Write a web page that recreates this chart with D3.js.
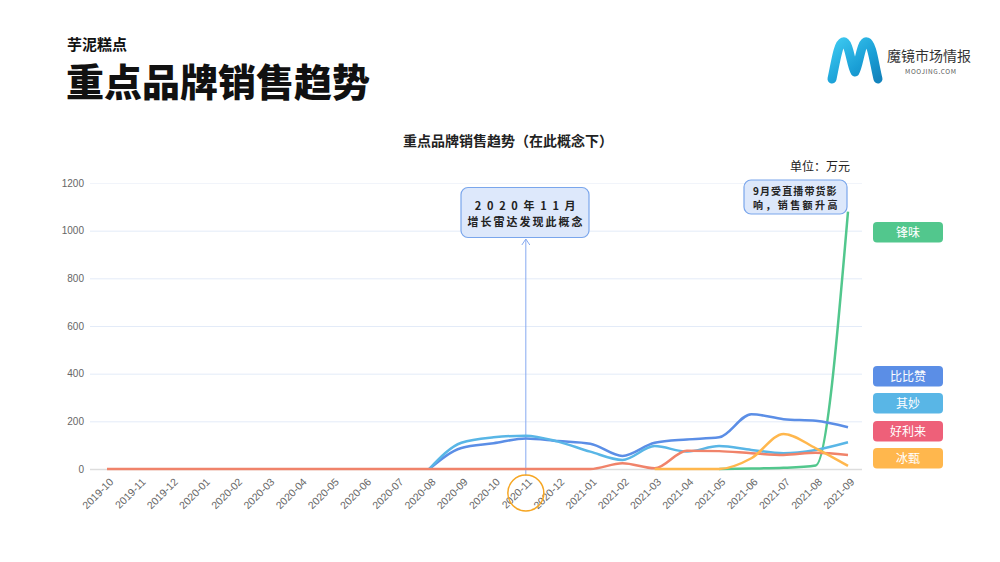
<!DOCTYPE html>
<html><head><meta charset="utf-8">
<script src="https://cdn.jsdelivr.net/npm/d3@7"></script>
<style>
html,body{margin:0;padding:0;background:#fff;}
svg{display:block;font-family:"Noto Sans CJK SC","Noto Sans",sans-serif;}
</style></head>
<body>
<svg id="c" width="1000" height="562"></svg>
<script>
// ---- data ----
const months = ["2019-10","2019-11","2019-12","2020-01","2020-02","2020-03","2020-04","2020-05","2020-06","2020-07","2020-08","2020-09","2020-10","2020-11","2020-12","2021-01","2021-02","2021-03","2021-04","2021-05","2021-06","2021-07","2021-08","2021-09"];
const yTicks = [0,200,400,600,800,1000,1200];
const N = null;
const fengwei  = [N,N,N,N,N,N,N,N,N,N,N,N,N,N,N,N,N,N,N,0,2,5,15,1080];
const bibizan  = [N,N,N,N,N,N,N,N,N,N,0,88,108,128,117,106,55,110,124,133,230,209,202,175];
const qimiao   = [N,N,N,N,N,N,N,N,N,N,0,110,133,140,115,73,38,96,73,96,80,66,80,112];
const haolilai = [0,0,0,0,0,0,0,0,0,0,0,0,0,0,0,0,24,3,77,75,66,59,68,59];
const bingzhen = [N,N,N,N,N,N,N,N,N,N,N,N,N,N,N,N,N,0,0,0,45,147,87,13];
const seriesNames = ["锋味","比比赞","其妙","好利来","冰甄"];
const seriesData = [fengwei,bibizan,qimiao,haolilai,bingzhen];
const lineColors = ["#52c78d","#5b8ee6","#59b6e6","#f0836a","#ffb74d"];
const legendColors = ["#52c78d","#5b8ee6","#59b6e6","#ee6079","#ffb74d"];
const annoMonth = "2020-11";

// ---- layout ----
const svg = d3.select("#c");
const X0 = 107, X1 = 848, GL = 90, GR = 862, YB = 469, YT = 183;
const x = d3.scalePoint().domain(months).range([X0, X1]);
const y = d3.scaleLinear().domain([0,1200]).range([YB, YT]);

// titles
svg.append("text").attr("x",67).attr("y",50).attr("font-size",15).attr("font-weight",700).attr("fill","#111").text("芋泥糕点");
svg.append("text").attr("x",66).attr("y",96).attr("font-size",38).attr("font-weight",900).attr("fill","#111").text("重点品牌销售趋势");

// logo
const defs = svg.append("defs");
const lg = defs.append("linearGradient").attr("id","lg").attr("x1","0").attr("y1","0").attr("x2","1").attr("y2","1");
lg.append("stop").attr("offset","0").attr("stop-color","#3cc8f0");
lg.append("stop").attr("offset","0.6").attr("stop-color","#1a9fd6");
lg.append("stop").attr("offset","1").attr("stop-color","#1384bd");
svg.append("path").attr("d","M832,79 C836,60 838,44 843,42 C849,40 851,66 855,72 C859,66 861,40 867,42 C872,44 874,62 878,79")
  .attr("fill","none").attr("stroke","url(#lg)").attr("stroke-width",9).attr("stroke-linecap","round").attr("stroke-linejoin","round");
svg.append("text").attr("x",887).attr("y",61).attr("font-size",14).attr("fill","#333").text("魔镜市场情报");
svg.append("text").attr("x",905).attr("y",74).attr("font-size",6.5).attr("fill","#555").attr("letter-spacing",0.6).text("MOOJING.COM");

// chart title + unit
svg.append("text").attr("x",508).attr("y",146).attr("text-anchor","middle").attr("font-size",14).attr("font-weight",700).attr("fill","#222").text("重点品牌销售趋势（在此概念下）");
svg.append("text").attr("x",850).attr("y",171).attr("text-anchor","end").attr("font-size",12).attr("fill","#222").text("单位：万元");

// grid + y axis
const ya = svg.append("g").attr("transform",`translate(${GL},0)`)
  .call(d3.axisLeft(y).tickValues(yTicks).tickFormat(d3.format("d")).tickSize(-(GR-GL)).tickPadding(6));
ya.select(".domain").remove();
ya.selectAll(".tick line").attr("stroke",d=>d===0?"#dddddd":(d===1200?"#f1f4fa":"#e3ebf8")).attr("stroke-width",d=>d===0?1.5:1);
ya.selectAll(".tick text").attr("fill","#666").attr("font-size",10).style("font-family","'Liberation Sans',Arial,sans-serif");

// x axis
const xa = svg.append("g").attr("transform",`translate(0,${YB})`).call(d3.axisBottom(x).tickSize(0));
xa.select(".domain").remove();
xa.selectAll(".tick text").attr("y",0).attr("x",0).attr("dy","0.35em")
  .attr("transform","translate(4,11) rotate(-45)").style("text-anchor","end")
  .attr("fill","#666").attr("font-size",10.5).style("font-family","'Liberation Sans',Arial,sans-serif");

// annotation line & circle
const ax = x(annoMonth);
svg.append("line").attr("x1",ax).attr("x2",ax).attr("y1",239).attr("y2",476).attr("stroke","#86aaf0").attr("stroke-width",1);
svg.append("path").attr("d",`M${ax-4},${245} L${ax},${239} L${ax+4},${245}`).attr("fill","none").attr("stroke","#86aaf0").attr("stroke-width",1);
svg.append("circle").attr("cx",ax).attr("cy",493).attr("r",18).attr("fill","none").attr("stroke","#f6a623").attr("stroke-width",1.5);

// lines
const line = d3.line().defined(d=>d.v!==null).x(d=>x(d.m)).y(d=>y(d.v)).curve(d3.curveMonotoneX);
seriesData.forEach((arr,i)=>{
  const pts = arr.map((v,j)=>({m:months[j],v:v}));
  svg.append("path").datum(pts).attr("d",line).attr("fill","none").attr("stroke",lineColors[i]).attr("stroke-width",2.5).attr("stroke-linejoin","round");
});

// annotation boxes (multi-line text as one text element with tspans)
function box(x0,y0,w,h,lines,fs,anchor,tx){
  svg.append("rect").attr("x",x0).attr("y",y0).attr("width",w).attr("height",h).attr("rx",7)
    .attr("fill","#dde8fb").attr("stroke","#7aa6ec").attr("stroke-width",1.2);
  const t = svg.append("text").attr("text-anchor",anchor).attr("font-size",fs)
    .attr("font-weight",700).attr("fill","#222");
  lines.forEach(l=>{
    t.append("tspan").attr("x",tx).attr("y",l.y).attr("letter-spacing",l.ls).text(l.s);
  });
}
box(461,187.5,128,50,[{s:"2 0 2 0 年 1 1 月",y:210,ls:1.6},{s:"增长雷达发现此概念",y:226,ls:2}],11,"middle",526);
box(744,180,103,34,[{s:"9月受直播带货影",y:194.5,ls:1.1},{s:"响，销售额升高",y:209,ls:2.4}],10,"start",753);

// legend
const legY = [222,366,393,421,448];
seriesNames.forEach((n,i)=>{
  svg.append("rect").attr("x",873).attr("y",legY[i]).attr("width",70).attr("height",20.5).attr("rx",4).attr("fill",legendColors[i]);
  svg.append("text").attr("x",908).attr("y",legY[i]+14.5).attr("text-anchor","middle").attr("font-size",12).attr("fill","#fff").text(n);
});
</script>
</body></html>
